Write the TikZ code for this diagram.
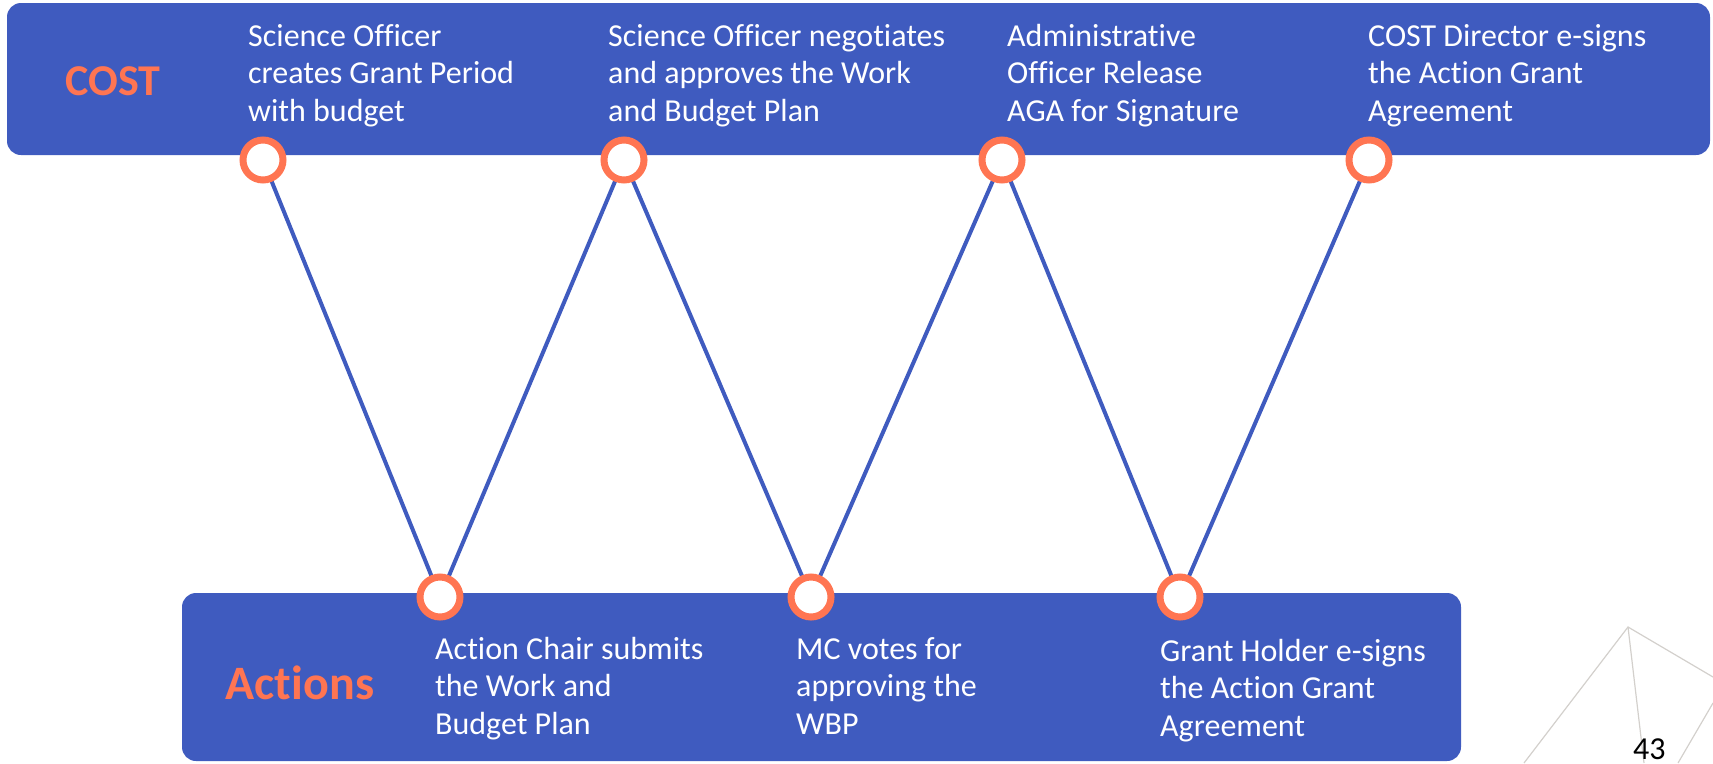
\documentclass[tikz,border=0pt]{standalone}
\usepackage{fontspec}
\setmainfont[Ligatures={NoCommon}]{Carlito}
\definecolor{barblue}{HTML}{3F5BBF}
\definecolor{dotorange}{HTML}{FF7552}
\definecolor{decogrey}{HTML}{D3D0CC}
\pgfdeclarelayer{barlayer}
\pgfdeclarelayer{linklayer}
\pgfsetlayers{barlayer,linklayer,main}
\begin{document}
\begin{tikzpicture}[x=1pt,y=-1pt,
  bar/.style={fill=barblue, rounded corners=14pt},
  dot/.style={circle, draw=dotorange, line width=7pt, fill=white, minimum size=40pt, inner sep=0pt},
  link/.style={draw=barblue, line width=4pt},
  desc/.style={text=white, font=\fontsize{32}{37.5}\selectfont, align=left, anchor=north west, inner sep=0pt},
  heading/.style={text=dotorange, font=\bfseries\fontsize{44}{50}\selectfont, inner sep=0pt},
  deco/.style={draw=decogrey, line width=1.2pt}]
\useasboundingbox (0,0) rectangle (1713,763);
\begin{pgfonlayer}{barlayer}
  \fill[bar] (7,3) rectangle (1710,155);
  \fill[bar] (182,593) rectangle (1461,761);
\end{pgfonlayer}

% labels
\node[heading] (cost) at (113,81) {COST};
\node[heading, font=\bfseries\fontsize{48}{54}\selectfont] (actions) at (300,683) {Actions};

% top texts (first baseline at y=46)
\node[desc] (d1) at (248,19.75) {\strut Science Officer\\creates Grant Period\\with budget};
\node[desc] (d2) at (608,19.75) {\strut Science Officer negotiates\\and approves the Work\\and Budget Plan};
\node[desc] (d3) at (1007,19.75) {\strut Administrative\\Officer Release\\AGA for Signature};
\node[desc] (d4) at (1368,19.75) {\strut COST Director e-signs\\the Action Grant\\Agreement};

% bottom texts (first baseline at y=659/661)
\node[desc] (e1) at (435,632.75) {\strut Action Chair submits\\the Work and\\Budget Plan};
\node[desc] (e2) at (796,632.75) {\strut MC votes for\\approving the\\WBP};
\node[desc] (e3) at (1160,634.75) {\strut Grant Holder e-signs\\the Action Grant\\Agreement};

% dots
\node[dot] (t1) at (263,160) {};
\node[dot] (t2) at (624,160) {};
\node[dot] (t3) at (1002,160) {};
\node[dot] (t4) at (1369,160) {};
\node[dot] (b1) at (440,597) {};
\node[dot] (b2) at (811,597) {};
\node[dot] (b3) at (1180,597) {};

\begin{pgfonlayer}{linklayer}
  \draw[link] (t1.center) -- (b1.center) -- (t2.center) -- (b2.center) -- (t3.center) -- (b3.center) -- (t4.center);
\end{pgfonlayer}

% decoration
\draw[deco] (1524,763) -- (1628,627) -- (1713,677);
\draw[deco] (1628,627) -- (1644,763);
\draw[deco] (1713,703) -- (1678,763);

\node[anchor=base west, inner sep=0pt, font=\fontsize{32}{34}\selectfont] (pagenum) at (1633,759.5) {43};
\end{tikzpicture}
\end{document}
